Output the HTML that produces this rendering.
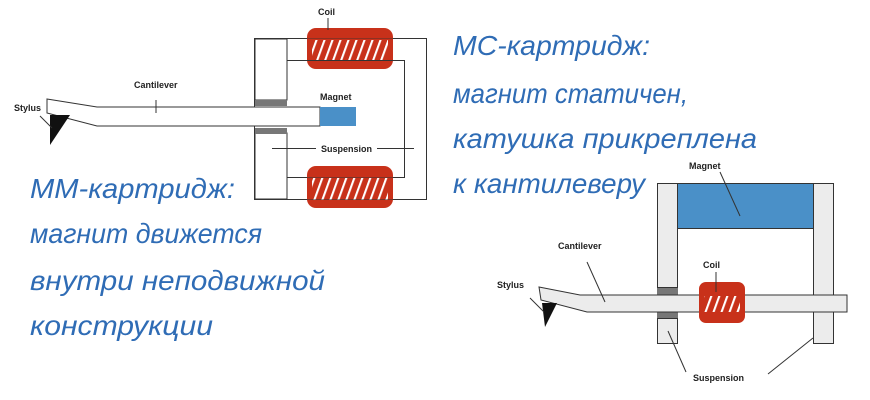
<!DOCTYPE html>
<html><head><meta charset="utf-8"><style>
html,body{margin:0;padding:0;background:#fff;width:870px;height:400px;overflow:hidden}
svg{display:block}
.lbl{font-family:"Liberation Sans",sans-serif;font-weight:bold;font-size:9px;fill:#222}
.big{font-family:"Liberation Sans","DejaVu Sans",sans-serif;font-style:italic;font-size:28px;fill:#2f6cb5}
</style></head><body>
<svg width="870" height="400" viewBox="0 0 870 400" xmlns="http://www.w3.org/2000/svg">
<defs>
<pattern id="st" width="8" height="20" patternUnits="userSpaceOnUse" patternTransform="skewX(-20)">
<rect width="8" height="20" fill="#c8311a"/><rect x="2" width="2.2" height="20" fill="#fff"/>
</pattern>
</defs>
<!-- LEFT DIAGRAM -->
<g stroke="#333" stroke-width="1" fill="none">
<rect x="254.5" y="38.5" width="172" height="161"/>
<polyline points="287,60.5 404.5,60.5 404.5,177.5 287,177.5"/>
</g>
<rect x="255" y="39" width="32" height="61" fill="#fff" stroke="#333"/>
<rect x="255" y="133" width="32" height="66" fill="#fff" stroke="#333"/>
<rect x="255" y="100" width="32" height="6" fill="#777"/>
<rect x="255" y="128" width="32" height="6" fill="#777"/>
<!-- coils -->
<rect x="307" y="28" width="86" height="41" rx="9" fill="#c8311a"/>
<rect x="312" y="40" width="76" height="20" fill="url(#st)"/>
<line x1="307" y1="60.5" x2="393" y2="60.5" stroke="#333"/>
<line x1="307" y1="38.5" x2="393" y2="38.5" stroke="#333" stroke-opacity=".4"/>
<rect x="307" y="166" width="86" height="42" rx="9" fill="#c8311a"/>
<rect x="312" y="178" width="76" height="22" fill="url(#st)"/>
<line x1="307" y1="177.5" x2="393" y2="177.5" stroke="#333" stroke-opacity=".5"/>
<line x1="307" y1="199.5" x2="393" y2="199.5" stroke="#333" stroke-opacity=".5"/>
<line x1="328" y1="18" x2="328" y2="30" stroke="#333"/>
<text class="lbl" x="318" y="15">Coil</text>
<!-- cantilever -->
<polygon points="47,99 97,107 320,107 320,126 97,126 47,113" fill="#fff" stroke="#333"/>
<rect x="320" y="107" width="36" height="19" fill="#4a90c8"/>
<polygon points="50,115 70,115 50,145" fill="#111"/>
<line x1="40" y1="116" x2="52" y2="128" stroke="#333"/>
<text class="lbl" x="14" y="111">Stylus</text>
<line x1="156" y1="100" x2="156" y2="113" stroke="#333"/>
<text class="lbl" x="134" y="88">Cantilever</text>
<text class="lbl" x="320" y="100">Magnet</text>
<line x1="272" y1="148.5" x2="316" y2="148.5" stroke="#333"/>
<line x1="377" y1="148.5" x2="414" y2="148.5" stroke="#333"/>
<text class="lbl" x="321" y="152">Suspension</text>

<!-- RIGHT DIAGRAM -->
<rect x="657.5" y="183.5" width="20" height="104" fill="#ececec" stroke="#333"/>
<rect x="657.5" y="318.5" width="20" height="25" fill="#ececec" stroke="#333"/>
<rect x="657" y="288" width="21" height="7" fill="#777"/>
<rect x="657" y="312" width="21" height="6" fill="#777"/>
<rect x="813.5" y="183.5" width="20" height="160" fill="#ececec" stroke="#333"/>
<rect x="677.5" y="183.5" width="136" height="45" fill="#4a90c8" stroke="#333"/>
<polygon points="539,287 580,295 847,295 847,312 587,312 541,300" fill="#ececec" stroke="#333"/>
<polygon points="542,303 557,303 545,327" fill="#111"/>
<line x1="530" y1="298" x2="544" y2="312" stroke="#333"/>
<rect x="699" y="282" width="46" height="41" rx="7" fill="#c8311a"/>
<rect x="704" y="296" width="36" height="16" fill="url(#st)"/>
<line x1="716" y1="272" x2="716" y2="292" stroke="#333"/>
<text class="lbl" x="703" y="268">Coil</text>
<line x1="720" y1="172" x2="740" y2="216" stroke="#333"/>
<text class="lbl" x="689" y="169">Magnet</text>
<line x1="587" y1="262" x2="605" y2="302" stroke="#333"/>
<text class="lbl" x="558" y="249">Cantilever</text>
<text class="lbl" x="497" y="288">Stylus</text>
<line x1="668" y1="331" x2="686" y2="372" stroke="#333"/>
<line x1="813" y1="338" x2="768" y2="374" stroke="#333"/>
<text class="lbl" x="693" y="381">Suspension</text>

<!-- texts -->
<text class="big" x="453" y="55" textLength="197" lengthAdjust="spacingAndGlyphs">МС-картридж:</text>
<text class="big" x="453" y="103" textLength="235" lengthAdjust="spacingAndGlyphs">магнит статичен,</text>
<text class="big" x="453" y="148" textLength="304" lengthAdjust="spacingAndGlyphs">катушка прикреплена</text>
<text class="big" x="453" y="193" textLength="192" lengthAdjust="spacingAndGlyphs">к кантилеверу</text>
<text class="big" x="30" y="198" textLength="205" lengthAdjust="spacingAndGlyphs">ММ-картридж:</text>
<text class="big" x="30" y="243" textLength="232" lengthAdjust="spacingAndGlyphs">магнит движется</text>
<text class="big" x="30" y="290" textLength="295" lengthAdjust="spacingAndGlyphs">внутри неподвижной</text>
<text class="big" x="30" y="335" textLength="183" lengthAdjust="spacingAndGlyphs">конструкции</text>
</svg>
</body></html>
